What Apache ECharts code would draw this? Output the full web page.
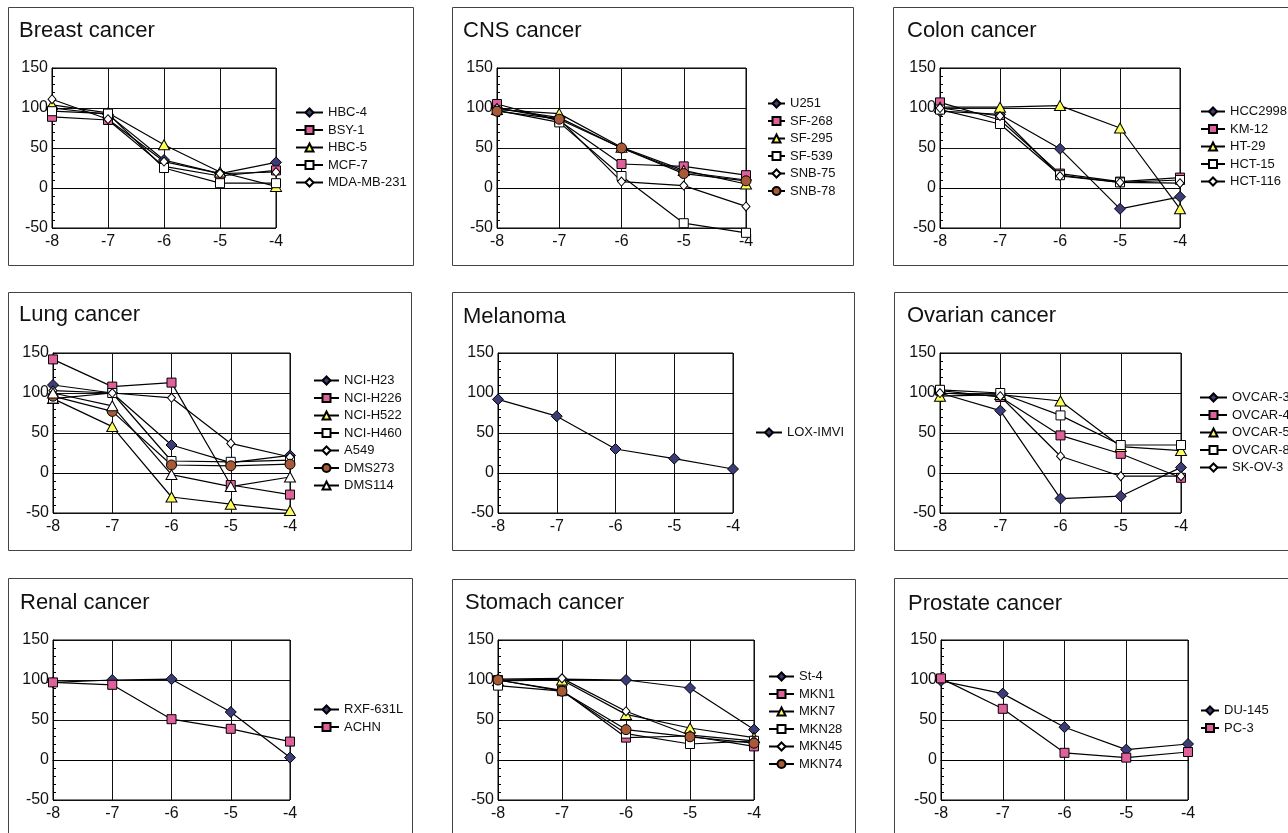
<!DOCTYPE html>
<html>
<head>
<meta charset="utf-8">
<script src="https://cdn.jsdelivr.net/npm/echarts@6/dist/echarts.min.js"></script>
<style>
  html, body { margin: 0; padding: 0; background: #fff; }
  #main { width: 1288px; height: 833px; }
</style>
</head>
<body>
<div id="main"></div>
<script>
// x = log concentration, y = growth %
const xTicks = ['-8', '-7', '-6', '-5', '-4'];
const yTicks = [-50, 0, 50, 100, 150];

const panelTitles = ['Breast cancer', 'CNS cancer', 'Colon cancer',
  'Lung cancer', 'Melanoma', 'Ovarian cancer',
  'Renal cancer', 'Stomach cancer', 'Prostate cancer'];

const breastNames = ['HBC-4', 'BSY-1', 'HBC-5', 'MCF-7', 'MDA-MB-231'];
const breastValues = [
  [100, 92, 35, 18, 32],
  [89, 85, 27, 15, 22],
  [104, 94, 54, 20, 2],
  [96, 93, 25, 6, 6],
  [111, 86, 33, 18, 20]
];

const cnsNames = ['U251', 'SF-268', 'SF-295', 'SF-539', 'SNB-75', 'SNB-78'];
const cnsValues = [
  [100, 88, 50, 20, 10],
  [105, 84, 30, 27, 16],
  [98, 93, 51, 22, 5],
  [97, 82, 15, -44, -56],
  [100, 86, 8, 3, -23],
  [96, 86, 50, 18, 9]
];

const colonNames = ['HCC2998', 'KM-12', 'HT-29', 'HCT-15', 'HCT-116'];
const colonValues = [
  [96, 92, 49, -26, -11],
  [107, 85, 18, 8, 13],
  [101, 101, 103, 75, -26],
  [98, 80, 16, 7, 10],
  [100, 90, 15, 7, 6]
];

const lungNames = ['NCI-H23', 'NCI-H226', 'NCI-H522', 'NCI-H460', 'A549', 'DMS273', 'DMS114'];
const lungValues = [
  [110, 100, 35, 13, 22],
  [142, 108, 113, -15, -27],
  [93, 58, -30, -39, -47],
  [93, 100, 15, 14, 16],
  [103, 100, 94, 37, 20],
  [96, 77, 10, 9, 11],
  [100, 84, -2, -17, -5]
];

const melanomaNames = ['LOX-IMVI'];
const melanomaValues = [
  [92, 71, 30, 18, 5]
];

const ovarianNames = ['OVCAR-3', 'OVCAR-4', 'OVCAR-5', 'OVCAR-8', 'SK-OV-3'];
const ovarianValues = [
  [100, 78, -32, -29, 7],
  [103, 95, 47, 24, -6],
  [96, 98, 90, 33, 28],
  [104, 100, 72, 35, 35],
  [100, 96, 21, -4, -4]
];

const renalNames = ['RXF-631L', 'ACHN'];
const renalValues = [
  [97, 100, 101, 60, 3],
  [97, 94, 51, 39, 23]
];

const stomachNames = ['St-4', 'MKN1', 'MKN7', 'MKN28', 'MKN45', 'MKN74'];
const stomachValues = [
  [100, 101, 100, 90, 38],
  [100, 87, 28, 30, 17],
  [99, 100, 57, 40, 28],
  [93, 86, 33, 20, 24],
  [101, 102, 61, 31, 24],
  [100, 86, 38, 29, 21]
];

const prostateNames = ['DU-145', 'PC-3'];
const prostateValues = [
  [99, 83, 41, 13, 20],
  [102, 64, 9, 3, 10]
];

const panelNames = [breastNames, cnsNames, colonNames, lungNames, melanomaNames,
  ovarianNames, renalNames, stomachNames, prostateNames];
const panelValues = [breastValues, cnsValues, colonValues, lungValues, melanomaValues,
  ovarianValues, renalValues, stomachValues, prostateValues];

// layout (pixels)
const grids = [
  { left: 52, top: 68, width: 224, height: 160 },
  { left: 497, top: 68, width: 249, height: 160 },
  { left: 940, top: 68, width: 240, height: 160 },
  { left: 53, top: 353, width: 237, height: 160 },
  { left: 498, top: 353, width: 235, height: 160 },
  { left: 940, top: 353, width: 241, height: 160 },
  { left: 53, top: 640, width: 237, height: 160 },
  { left: 498, top: 640, width: 256, height: 160 },
  { left: 941, top: 640, width: 247, height: 160 }
];
const titlePos = [[19, 20], [463, 20], [907, 20], [19, 304], [463, 306], [907, 305], [20, 592], [465, 592], [908, 593]];
const legendPos = [[295, 106, 27], [767, 97, 17], [1200, 105, 24], [313, 374, 25], [755, 426, 26],
  [1199, 391, 27], [313, 703, 25], [768, 670, 25], [1200, 704, 18]];
const boxes = [
  [8, 7, 405, 258], [452, 7, 401, 258], [893, 7, 420, 258],
  [8, 292, 403, 258], [452, 292, 402, 258], [894, 292, 420, 258],
  [8, 578, 404, 280], [452, 579, 403, 280], [894, 578, 420, 280]
];

// marker styles by position in each panel
const markers = [
  { symbol: 'diamond', size: [11, 11], fill: '#3c3c78' },
  { symbol: 'rect', size: [9, 9], fill: '#e0609c' },
  { symbol: 'triangle', size: [11, 10], fill: '#ffff5a' },
  { symbol: 'rect', size: [9, 9], fill: '#ffffff' },
  { symbol: 'diamond', size: [8, 9], fill: '#ffffff' },
  { symbol: 'circle', size: [10, 10], fill: '#a85a36' },
  { symbol: 'triangle', size: [11, 10], fill: '#ffffff' }
];

const font = 'Liberation Sans, Arial, sans-serif';

const option = {
  animation: false,
  backgroundColor: '#fff',
  title: panelTitles.map((t, i) => ({
    text: t,
    left: titlePos[i][0],
    top: titlePos[i][1],
    padding: 0,
    textStyle: { fontFamily: font, fontSize: 22, fontWeight: 'normal', color: '#111' }
  })),
  grid: grids.map(g => ({ ...g, show: true, borderColor: '#000', borderWidth: 1, backgroundColor: 'transparent' })),
  xAxis: grids.map((g, i) => ({
    type: 'category',
    gridIndex: i,
    data: xTicks,
    boundaryGap: false,
    axisLine: { lineStyle: { color: '#000', width: 1 } },
    axisTick: { show: false },
    axisLabel: { color: '#111', fontFamily: font, fontSize: 16, margin: 6 },
    splitLine: { show: true, lineStyle: { color: '#111', width: 1 } }
  })),
  yAxis: grids.map((g, i) => ({
    type: 'value',
    gridIndex: i,
    min: yTicks[0],
    max: yTicks[yTicks.length - 1],
    interval: 50,
    axisLine: { show: true, lineStyle: { color: '#000', width: 1 } },
    axisTick: { show: true, inside: true, length: 4, lineStyle: { color: '#000' } },
    minorTick: { show: true, splitNumber: 5, length: 3, lineStyle: { color: '#000' } },
    axisLabel: { color: '#111', fontFamily: font, fontSize: 16, margin: 4 },
    splitLine: { show: true, lineStyle: { color: '#111', width: 1 } }
  })),
  legend: panelNames.map((names, i) => ({
    data: names,
    orient: 'vertical',
    left: legendPos[i][0],
    top: legendPos[i][1],
    padding: 0,
    itemWidth: legendPos[i][2],
    itemHeight: 10,
    itemGap: 4.5,
    selectedMode: false,
    textStyle: { fontFamily: font, fontSize: 13, color: '#111' }
  })),
  series: [],
  graphic: boxes.map(b => ({
    type: 'rect',
    silent: true,
    z: -1,
    shape: { x: b[0] + 0.5, y: b[1] + 0.5, width: b[2], height: b[3] },
    style: { fill: 'none', stroke: '#444', lineWidth: 1 }
  }))
};

panelValues.forEach((vals, p) => {
  vals.forEach((row, k) => {
    const m = markers[k];
    option.series.push({
      name: panelNames[p][k],
      type: 'line',
      xAxisIndex: p,
      yAxisIndex: p,
      data: row,
      clip: false,
      symbol: m.symbol,
      symbolSize: m.size,
      showAllSymbol: true,
      lineStyle: { color: '#000', width: 1.2 },
      itemStyle: { color: m.fill, borderColor: '#000', borderWidth: 1 }
    });
  });
});

const chart = echarts.init(document.getElementById('main'));
chart.setOption(option);
</script>
</body>
</html>
